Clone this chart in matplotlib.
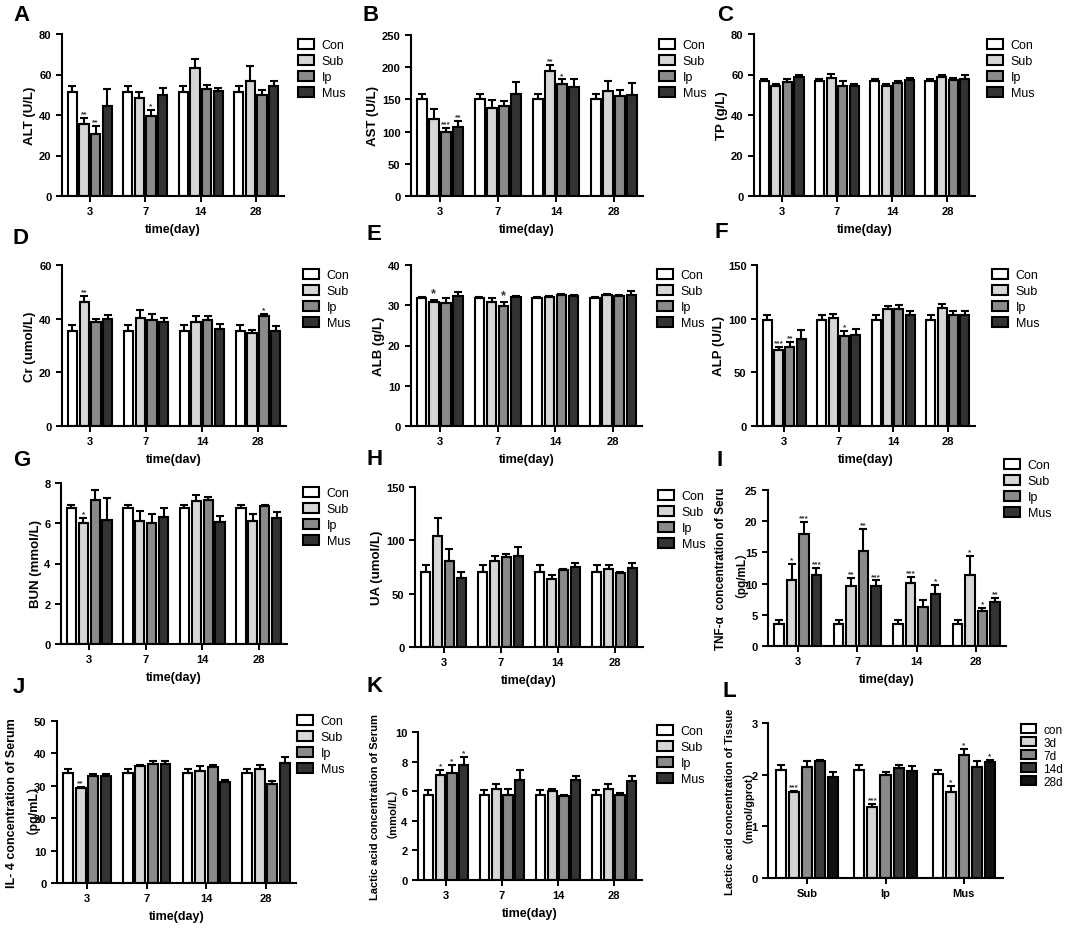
import numpy as np
import matplotlib.pyplot as plt

plt.rcParams['font.family'] = ['Liberation Sans', 'Noto Sans CJK SC', 'DejaVu Sans']
plt.rcParams['font.weight'] = 'bold'
plt.rcParams['axes.labelweight'] = 'bold'

days = ['3', '7', '14', '28']
groups = ['Con', 'Sub', 'Ip', 'Mus']
colors = ['white', '#d6d6d6', '#8a8a8a', '#333333']

# A  ALT
alt = [[51.2, 51.2, 51.2, 51.2], [35.6, 48.3, 63.0, 57.0], [30.7, 39.4, 52.9, 50.0], [44.2, 49.8, 51.7, 54.2]]
alt_err = [[3, 3, 3, 3], [3, 3, 4.7, 7], [4, 3, 2, 2.5], [8.7, 3.5, 1.5, 2.5]]
alt_sig = [['', '', '', ''], ['**', '', '', ''], ['**', '*', '', ''], ['', '', '', '']]
# B  AST
ast = [[150, 150, 150, 150], [120, 137, 194.5, 162.5], [100, 139, 174, 156], [107, 158.5, 170, 157.5]]
ast_err = [[8, 8, 8, 8], [15, 12, 9, 16], [5, 8, 7, 9], [10, 18, 12, 18]]
ast_sig = [['', '', '', ''], ['', '', '**', ''], ['***', '', '*', ''], ['**', '', '', '']]
# C  TP
tp = [[56.7, 56.7, 56.7, 56.7], [54.2, 58.3, 54.5, 58.6], [56.2, 54.2, 55.7, 57.1], [58.8, 54.5, 57.1, 58.0]]
tp_err = [[1, 1, 1, 1], [1, 2, 0.8, 1], [1.5, 2.5, 1, 1.2], [1, 0.8, 1, 1.8]]
tp_sig = [[''] * 4] * 4
# D  Cr
cr = [[35.4, 35.4, 35.4, 35.4], [46.3, 40.4, 38.9, 34.8], [38.8, 39.5, 39.4, 41.0], [39.8, 38.9, 36.3, 35.4]]
cr_err = [[2.2, 2.2, 2.2, 2.2], [2.1, 2.7, 2, 1], [1, 2.1, 1.6, 0.6], [1.6, 1.5, 1.6, 1.9]]
cr_sig = [['', '', '', ''], ['**', '', '', ''], ['', '', '', '*'], ['', '', '', '']]
# E  ALB
alb = [[31.7, 31.7, 31.7, 31.7], [30.9, 30.7, 32.0, 32.5], [30.5, 29.8, 32.5, 32.2], [32.3, 32.1, 32.3, 32.5]]
alb_err = [[0.3, 0.3, 0.3, 0.3], [0.4, 1.2, 0.3, 0.4], [1.2, 1.0, 0.3, 0.3], [1.0, 0.3, 0.3, 1.0]]
alb_sig = [['', '', '', ''], ['*', '', '', ''], ['', '*', '', ''], ['', '', '', '']]
# F  ALP
alp = [[98.7, 98.7, 98.7, 98.7], [71, 101, 109, 110], [74, 84, 109, 103.6], [81, 85, 103.6, 103]]
alp_err = [[4.6, 4.6, 4.6, 4.6], [3, 3, 3, 3.5], [4.7, 4.7, 3.5, 4], [8, 5, 3.5, 4.5]]
alp_sig = [['', '', '', ''], ['***', '', '', ''], ['**', '*', '', ''], ['', '', '', '']]
# G  BUN
bun = [[6.75, 6.75, 6.75, 6.75], [6.0, 6.13, 7.09, 6.13], [7.14, 6.0, 7.15, 6.87], [6.18, 6.32, 6.04, 6.24]]
bun_err = [[0.15, 0.15, 0.15, 0.15], [0.25, 0.5, 0.3, 0.33], [0.5, 0.45, 0.15, 0.05], [1.05, 0.45, 0.33, 0.33]]
bun_sig = [['', '', '', ''], ['*', '', '', ''], ['', '', '', ''], ['', '', '', '']]
# H  UA
ua = [[70.6, 70.6, 70.6, 70.6], [104, 81, 63.8, 73], [81, 84, 72.2, 69], [64.4, 85.6, 75.3, 74]]
ua_err = [[6.5, 6.5, 6.5, 6.5], [17, 4.6, 4, 3.5], [11, 3.5, 1, 1], [6, 7.8, 3.5, 5]]
ua_sig = [[''] * 4] * 4
# I  TNF-a
tnf = [[3.56, 3.56, 3.56, 3.56], [10.5, 9.6, 10.05, 11.4], [17.9, 15.3, 6.2, 5.6], [11.3, 9.6, 8.35, 7.1]]
tnf_err = [[0.6, 0.6, 0.6, 0.6], [2.7, 1.3, 1.0, 3.1], [2.0, 3.4, 1.2, 0.5], [1.2, 0.9, 1.45, 0.6]]
tnf_sig = [['', '', '', ''], ['*', '**', '***', '*'], ['***', '**', '', '*'], ['***', '***', '*', '**']]
# J  IL-4
il4 = [[33.8, 33.8, 33.8, 33.8], [29.2, 36.0, 34.6, 35.1], [33.1, 36.8, 35.9, 30.7], [33.1, 36.8, 31.2, 37.0]]
il4_err = [[1.3, 1.3, 1.3, 1.3], [0.3, 0.5, 1.6, 1.2], [0.5, 0.8, 0.5, 0.8], [0.5, 0.8, 0.5, 1.8]]
il4_sig = [['', '', '', ''], ['**', '', '', ''], ['', '', '', ''], ['', '', '', '']]
# K  lactic acid, serum
lac = [[5.71, 5.71, 5.71, 5.71], [7.07, 6.16, 5.98, 6.12], [7.25, 5.76, 5.67, 5.71], [7.74, 6.73, 6.73, 6.68]]
lac_err = [[0.4, 0.4, 0.4, 0.4], [0.38, 0.33, 0.18, 0.4], [0.5, 0.36, 0.1, 0.2], [0.6, 0.72, 0.3, 0.33]]
lac_sig = [['', '', '', ''], ['*', '', '', ''], ['*', '', '', ''], ['*', '', '', '']]
# L  lactic acid, tissue
sites = ['Sub', 'Ip', 'Mus']
periods = ['con', '3d', '7d', '14d', '28d']
colors_l = ['white', '#d4d4d4', '#8a8a8a', '#3a3a3a', '#111111']
tis = [[2.10, 2.10, 2.01], [1.66, 1.38, 1.67], [2.15, 2.00, 2.39], [2.26, 2.13, 2.14], [1.96, 2.08, 2.24]]
tis_err = [[0.09, 0.09, 0.08], [0.02, 0.06, 0.11], [0.12, 0.05, 0.10], [0.02, 0.05, 0.12], [0.10, 0.08, 0.05]]
tis_sig = [['', '', ''], ['***', '***', '*'], ['', '', '*'], ['', '', ''], ['', '', '*']]

W, H = 1072, 945
fig = plt.figure(figsize=(W / 100, H / 100), dpi=100)


def box(l, t, r, b):
    return [l / W, 1 - b / H, (r - l) / W, (b - t) / H]


def panel(rect, data, err, sig, ymax, ystep, ylabel, xlabel, leg, letter, lxy,
          cats=days, names=groups, cols=colors, pitch=0.21, width=0.165,
          star_fs=6, ylab_fs=9.5, ylab_pad=2, leg_fs=9, leg_pitch=18.3):
    ax = fig.add_axes(box(*rect))
    x = np.arange(len(cats))
    n = len(data)
    for i in range(n):
        xi = x + (i - (n - 1) / 2) * pitch
        ax.bar(xi, data[i], width, color=cols[i], edgecolor='black', linewidth=1.5,
               label=names[i], zorder=2)
        ax.errorbar(xi, data[i], yerr=[np.zeros(len(cats)), err[i]], fmt='none',
                    ecolor='black', elinewidth=1.5, capsize=2.6, capthick=1.5, zorder=3)
        for xx, yy, ee, s in zip(xi, data[i], err[i], sig[i]):
            if s:
                ax.annotate(s, (xx, yy + ee), xytext=(0, 0.5), textcoords='offset points',
                            ha='center', va='bottom', fontsize=star_fs, color='#333333')
    ax.set_xlim(-0.5, len(cats) - 0.5)
    ax.set_ylim(0, ymax)
    ax.set_yticks(np.arange(0, ymax + ystep / 2, ystep))
    ax.set_xticks(x)
    ax.set_xticklabels(cats)
    for s in ['top', 'right']:
        ax.spines[s].set_visible(False)
    for s in ['left', 'bottom']:
        ax.spines[s].set_linewidth(1.5)
    ax.tick_params(labelsize=8, width=1.4, length=4)
    ax.set_ylabel(ylabel, fontsize=ylab_fs, linespacing=1.1, labelpad=ylab_pad)
    if xlabel:
        ax.set_xlabel(xlabel, fontsize=9, labelpad=5)
    fs_px = leg_fs * 100 / 72
    ax.legend(loc='upper left', bbox_to_anchor=(leg[0] / W, 1 - (leg[1] - 7) / H),
              bbox_transform=fig.transFigure, frameon=False, borderpad=0, borderaxespad=0,
              handlelength=1.3, handleheight=0.8, handletextpad=0.6,
              labelspacing=(leg_pitch - fs_px * 1.15) / fs_px,
              prop={'weight': 'normal', 'size': leg_fs})
    fig.text(lxy[0] / W, 1 - lxy[1] / H, letter, fontsize=16, fontweight='bold',
             ha='left', va='top')
    return ax


panel((62, 35, 284, 197), alt, alt_err, alt_sig, 80, 20, 'ALT (U/L)', 'time(day)', (298, 47), 'A', (13, 5))
panel((411, 36, 643, 197), ast, ast_err, ast_sig, 250, 50, 'AST (U/L)', 'time(day)', (659, 47), 'B', (362, 5))
panel((754, 35, 975, 197), tp, tp_err, tp_sig, 80, 20, 'TP (g/L)', 'time(day)', (987, 47), 'C', (717, 5))
panel((62, 266, 286, 427), cr, cr_err, cr_sig, 60, 20, 'Cr (umol/L)', 'time(dav)', (303, 277), 'D', (13, 228))
panel((411, 266, 642, 427), alb, alb_err, alb_sig, 40, 10, 'ALB (g/L)', 'time(day)', (657, 277), 'E', (367, 224), star_fs=9)
panel((757, 266, 975, 427), alp, alp_err, alp_sig, 150, 50, 'ALP (U/L)', 'time(day)', (992, 277), 'F', (714, 222))
panel((61, 484, 287, 645), bun, bun_err, bun_sig, 8, 2, 'BUN (mmol/L)', 'time(day)', (303, 495), 'G', (13, 450))
panel((415, 488, 643, 648), ua, ua_err, ua_sig, 150, 50, 'UA (umol/L)', 'time(day)', (658, 498), 'H', (367, 449))
panel((768, 491, 1006, 647), tnf, tnf_err, tnf_sig, 25, 5, 'TNF-α  concentration of Seru\n（pg/mL）',
      'time(day)', (1004, 467), 'I', (717, 450), ylab_fs=8.5, ylab_pad=3)
panel((57, 722, 296, 884), il4, il4_err, il4_sig, 50, 10, 'IL- 4 concentration of Serum\n（pg/mL）',
      'time(day)', (297, 723), 'J', (13, 677), ylab_fs=9, ylab_pad=1)
panel((418, 733, 642, 881), lac, lac_err, lac_sig, 10, 2, 'Lactic acid concentration of Serum\n（mmol/L）',
      'time(day)', (657, 733), 'K', (367, 676), ylab_fs=8, ylab_pad=3)
panel((768, 724, 1003, 879), tis, tis_err, tis_sig, 3, 1, 'Lactic acid concentration of Tissue\n（mmol/gprot）',
      None, (1021, 732), 'L', (723, 681), cats=sites, names=periods, cols=colors_l,
      pitch=0.167, width=0.128, ylab_fs=8, ylab_pad=3, leg_fs=8.5, leg_pitch=14.5)

fig.savefig('out.png', dpi=100, facecolor='white')
